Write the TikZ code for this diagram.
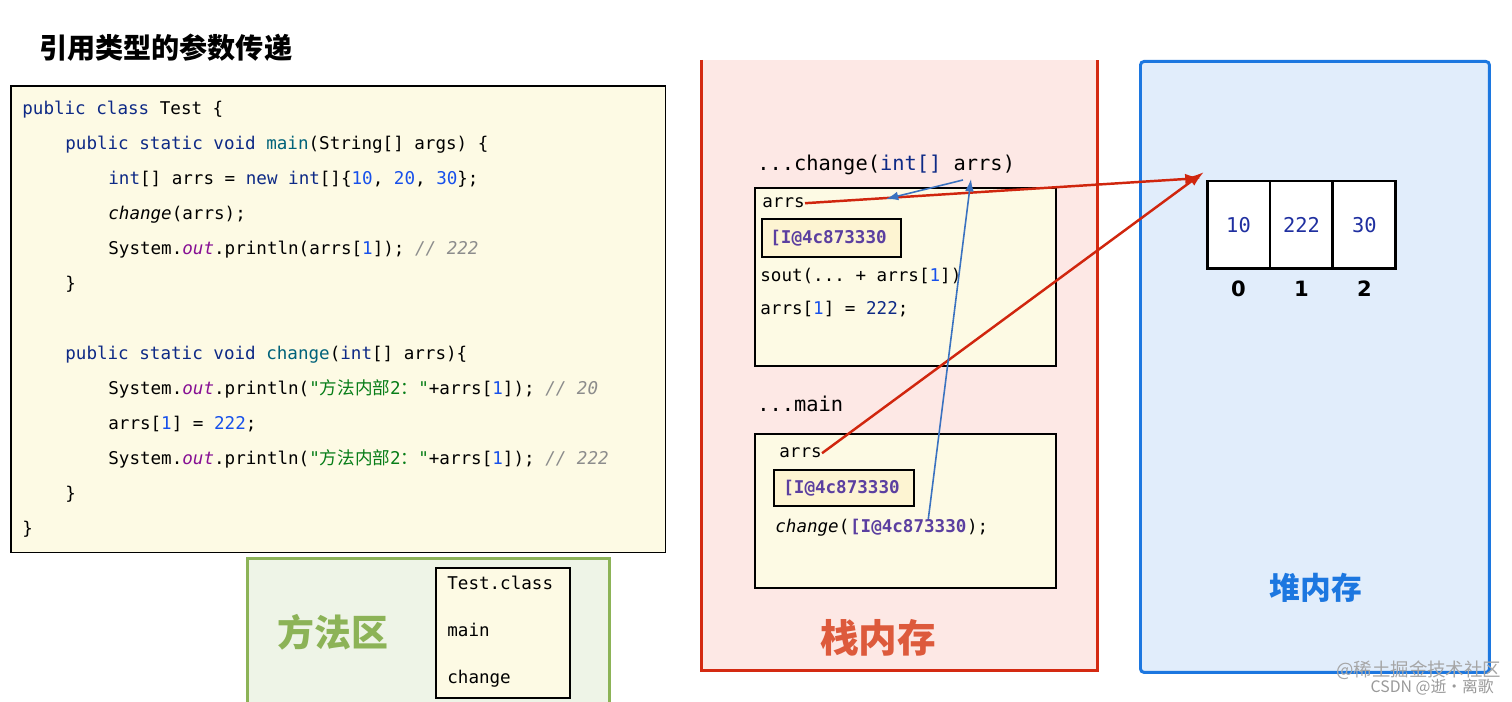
\documentclass[tikz,border=0pt]{standalone}
\usepackage{fontspec}
\setmainfont{DejaVu Sans}
\setmonofont{DejaVu Sans Mono}
\newfontfamily\cjk{Noto Sans CJK SC}
\usetikzlibrary{positioning,calc,arrows.meta}

\definecolor{codebg}{HTML}{FDFAE4}
\definecolor{addrbg}{HTML}{FDF4D2}
\definecolor{kwblue}{HTML}{0E2A86}
\definecolor{numblue}{HTML}{1750EB}
\definecolor{fldpurple}{HTML}{871094}
\definecolor{strgreen}{HTML}{067D17}
\definecolor{cmtgray}{HTML}{8C8C8C}
\definecolor{mthteal}{HTML}{00627A}
\definecolor{addrpurple}{HTML}{5B3FA0}
\definecolor{stackbg}{HTML}{FDE8E5}
\definecolor{stackred}{HTML}{D42A12}
\definecolor{stacklbl}{HTML}{DD5A3C}
\definecolor{heapbg}{HTML}{E1EDFB}
\definecolor{heapblue}{HTML}{1C77E0}
\definecolor{methbg}{HTML}{EEF4E7}
\definecolor{methgreen}{HTML}{8CB357}
\definecolor{refred}{HTML}{D0260E}
\definecolor{passblue}{HTML}{3A72C0}
\definecolor{valblue}{HTML}{1F2FA0}

\newcommand{\jkw}[1]{\textcolor{kwblue}{#1}}
\newcommand{\jnum}[1]{\textcolor{numblue}{#1}}
\newcommand{\jfld}[1]{\textcolor{fldpurple}{\itshape #1}}
\newcommand{\jstr}[1]{\textcolor{strgreen}{#1}}
\newcommand{\jcmt}[1]{\textcolor{cmtgray}{\itshape #1}}
\newcommand{\jmth}[1]{\textcolor{mthteal}{#1}}

\begin{document}
\begin{tikzpicture}[x=0.02cm,y=-0.02cm]
  \tikzstyle{code}=[anchor=base west,inner sep=0pt,font=\ttfamily\fontsize{10}{12}\selectfont]
  \tikzstyle{stk}=[anchor=base west,inner sep=0pt,font=\ttfamily\fontsize{10}{12}\selectfont]
  \tikzstyle{stkhead}=[anchor=base west,inner sep=0pt,font=\ttfamily\fontsize{11.6}{13}\selectfont]
  \tikzstyle{frame}=[draw=black,line width=0.9pt,fill=codebg,anchor=north west]
  \tikzstyle{addr}=[draw=black,line width=1pt,fill=addrbg,anchor=north west]
  \tikzstyle{addrtxt}=[inner sep=0pt,font=\ttfamily\bfseries\fontsize{10}{12}\selectfont,text=addrpurple]
  \tikzstyle{cell}=[draw=black,line width=1.7pt,fill=white,outer sep=0pt,minimum width=1.26cm,minimum height=1.76cm,font=\ttfamily\fontsize{11.6}{13}\selectfont,text=valblue]
  \tikzstyle{idx}=[font=\bfseries\fontsize{12}{14}\selectfont]
  \tikzstyle{refarrow}=[draw=refred,line width=1.4pt,-{Latex[length=9pt,width=6pt]}]
  \tikzstyle{passarrow}=[draw=passblue,line width=0.9pt,-{Latex[length=7pt,width=5pt]}]
  \useasboundingbox (0,0) rectangle (1512,702);

  % title
  \node[anchor=west,font=\cjk\bfseries\fontsize{16}{18}\selectfont] (title) at (33,48) {引用类型的参数传递};

  % source code
  \node[frame,minimum width=13.1cm,minimum height=9.34cm] (codebox) at (10,85) {};
  \node[code] (l1) at (22,115) {\jkw{public class} Test \{};
  \node[code] (l2) at (65,150) {\jkw{public static void} \jmth{main}(String[] args) \{};
  \node[code] (l3) at (108,185) {\jkw{int}[] arrs = \jkw{new} \jkw{int}[]\{\jnum{10}, \jnum{20}, \jnum{30}\};};
  \node[code] (l4) at (108,220) {\textit{change}(arrs);};
  \node[code] (l5) at (108,255) {System.\jfld{out}.println(arrs[\jnum{1}]); \jcmt{// 222}};
  \node[code] (l6) at (65,290) {\}};
  \node[code] (l7) at (65,360) {\jkw{public static void} \jmth{change}(\jkw{int}[] arrs)\{};
  \node[code] (l8) at (108,395) {System.\jfld{out}.println(\jstr{"{\cjk 方法内部}2{\cjk ：}"}+arrs[\jnum{1}]); \jcmt{// 20}};
  \node[code] (l9) at (108,430) {arrs[\jnum{1}] = \jnum{222};};
  \node[code] (l10) at (108,465) {System.\jfld{out}.println(\jstr{"{\cjk 方法内部}2{\cjk ：}"}+arrs[\jnum{1}]); \jcmt{// 222}};
  \node[code] (l11) at (65,500) {\}};
  \node[code] (l12) at (22,535) {\}};

  % method area
  \node[anchor=north west,draw=methgreen,line width=1.7pt,fill=methbg,minimum width=7.24cm,minimum height=3.3cm] (methArea) at (246,557) {};
  \node[font=\cjk\bfseries\fontsize{21}{24}\selectfont,text=methgreen] (methLbl) at (333,632) {方法区};
  \node[frame,minimum width=2.68cm,minimum height=2.6cm] (classBox) at (435,567) {};
  \node[stk] (clsName) at (447,589) {Test.class};
  \node[stk] (clsMain) at (447,636) {main};
  \node[stk] (clsChange) at (447,683) {change};

  % stack
  \node[anchor=north west,fill=stackbg,inner sep=0pt,minimum width=7.92cm,minimum height=12.2cm] (stack) at (701,60) {};
  \draw[stackred,line width=1.7pt] (stack.north west) |- (stack.south east) -- (stack.north east);
  \node[font=\cjk\bfseries\fontsize{22}{26}\selectfont,text=stacklbl] (stackLbl) at (878,638) {栈内存};

  % change frame
  \node[stkhead] (hdrC) at (757,171) {...change(\jkw{int[]} arrs)};
  \node[frame,minimum width=6.02cm,minimum height=3.56cm] (cFrame) at (754,187) {};
  \node[stk] (cArrs) at (762,208) {arrs};
  \node[addr,minimum width=2.78cm,minimum height=0.76cm] (cAddr) at (761,218) {};
  \node[addrtxt,right=0.18cm of cAddr.west] (cVal) {[I@4c873330};
  \node[stk] (cSout) at (760,282) {sout(... + arrs[\jnum{1}])};
  \node[stk] (cSet) at (760,315) {arrs[\jnum{1}] = \jkw{222};};

  % main frame
  \node[stkhead] (hdrM) at (757,412) {...main};
  \node[frame,minimum width=6.02cm,minimum height=3.08cm] (mFrame) at (754,433) {};
  \node[stk] (mArrs) at (779,458) {arrs};
  \node[addr,minimum width=2.8cm,minimum height=0.72cm] (mAddr) at (773,469) {};
  \node[addrtxt,right=0.2cm of mAddr.west] (mVal) {[I@4c873330};
  \node[stk] (mCall) at (775,533) {\textit{change}(};
  \node[addrtxt,anchor=base west] (mArg) at (mCall.base east) {[I@4c873330};
  \node[stk] (mEnd) at (mArg.base east) {);};

  % heap
  \node[anchor=north west,draw=heapblue,line width=1.7pt,fill=heapbg,rounded corners=2pt,minimum width=6.98cm,minimum height=12.22cm] (heap) at (1139,60) {};
  \node[font=\cjk\bfseries\fontsize{17.5}{20}\selectfont,text=heapblue] (heapLbl) at (1316,588) {堆内存};
  \node[cell] (a0) at (1238.5,225) {10};
  \node[cell,right=0pt of a0] (a1) {222};
  \node[cell,right=0pt of a1] (a2) {30};
  \node[idx,below=0.12cm of a0] (i0) {0};
  \node[idx,below=0.12cm of a1] (i1) {1};
  \node[idx,below=0.12cm of a2] (i2) {2};

  % references
  \coordinate (hp1) at (1201,178);
  \coordinate (hp2) at (1204,172);
  \coordinate (hArrs) at (971,179);
  \coordinate (cIn) at (886,199);
  \draw[refarrow] (cArrs.east) -- (hp1);
  \draw[refarrow] (mArrs.east) -- (hp2);
  \draw[passarrow] ($(mArg.north)+(20,0)$) -- (hArrs);
  \draw[passarrow] ($(hArrs)+(-8,1)$) -- (cIn);

  % watermarks
  \node[anchor=west,font=\cjk\fontsize{10.5}{12}\selectfont,text=black!35] (wm1) at (1330,670) {@稀土掘金技术社区};
  \node[anchor=east,font=\cjk\fontsize{9}{11}\selectfont,text=black!40] (wm2) at (1500,687) {CSDN @逝·离歌};
\end{tikzpicture}
\end{document}
